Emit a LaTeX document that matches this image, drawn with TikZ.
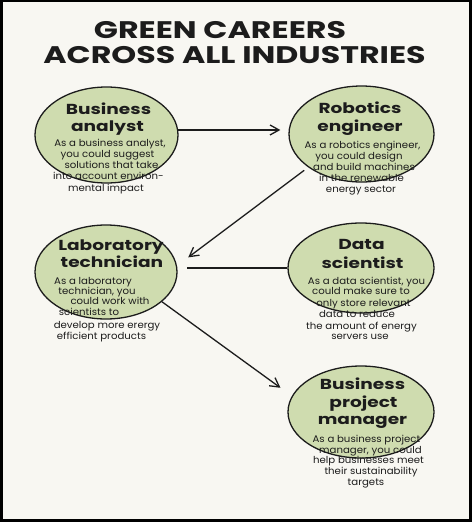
\documentclass[tikz,border=0pt]{standalone}
\usepackage{fontspec}
\setmainfont{Poppins}
\newfontfamily\widefont[FakeStretch=1.32]{Poppins}
\newfontfamily\headfont[FakeStretch=1.28]{Poppins}
\newfontfamily\bodyfont[FakeStretch=1.06]{Poppins}
\usetikzlibrary{shapes.geometric,arrows.meta}
\definecolor{bgc}{HTML}{F8F7F2}
\definecolor{sage}{HTML}{CFDCAF}
\definecolor{ink}{HTML}{1C1C1C}
\tikzset{
  bubble/.style={ellipse,draw=ink,line width=1.3pt,fill=sage,inner sep=0pt},
  titletxt/.style={anchor=base,inner sep=0pt,text=ink,font=\widefont\bfseries\fontsize{24}{28}\selectfont},
  headtxt/.style={anchor=base,inner sep=0pt,text=ink,font=\headfont\bfseries\fontsize{14.5}{17}\selectfont},
  bodytxt/.style={anchor=base,inner sep=0pt,text=ink,font=\bodyfont\fontsize{9.6}{11}\selectfont},
  conn/.style={draw=ink,line width=1.3pt},
  arr/.style={conn,-{Straight Barb[length=9pt,width=10pt,line width=1.3pt]}}
}
\begin{document}
\begin{tikzpicture}[x=1pt,y=-1pt]
\fill[black] (0,0) rectangle (472,522);
\fill[bgc] (3,2) rectangle (469,519);
\useasboundingbox (0,0) rectangle (472,522);
% title
\node[titletxt] (t1) at (220,38) {GREEN CAREERS};
\node[titletxt] (t2) at (234.5,63) {ACROSS ALL INDUSTRIES};
% bubbles
\node[bubble,minimum width=143pt,minimum height=96pt] (ba) at (106.5,135) {};
\node[bubble,minimum width=145pt,minimum height=96pt] (rob) at (361.5,134) {};
\node[bubble,minimum width=142pt,minimum height=94pt] (lab) at (106,272) {};
\node[bubble,minimum width=146pt,minimum height=90pt] (data) at (361,268) {};
\node[bubble,minimum width=146pt,minimum height=92pt] (bpm) at (361,412) {};
% headings
\foreach \x/\y/\t [count=\i] in {
  108.5/114/Business, 107.5/131/analyst,
  360/113/Robotics, 360/131/engineer,
  111/250/Laboratory, 112/267/technician,
  361.5/249/Data, 362.5/268/scientist,
  362.5/389/Business, 363.5/407/project, 362.5/424/manager}
  \node[headtxt] (h\i) at (\x,\y) {\t};
% body text
\foreach \x/\y/\t [count=\i] in {
  110/146.7/{As a business analyst,}, 107.5/157/{you could suggest},
  111.5/168/{solutions that take}, 108.5/179/{into account environ-},
  106/191/{mental impact},
  362.5/148/{As a robotics engineer,}, 359/159/{you could design},
  364/170/{and build machines}, 361.5/181.5/{in the renewable},
  361/192/{energy sector},
  93/284/{As a laboratory}, 97/294/{technician, you},
  110/304/{could work with}, 89/315/{scientists to},
  107/328/{develop more erergy}, 101.5/339/{efficient products},
  366.5/284/{As a data scientist, you}, 361/294/{could make sure to},
  363.5/306/{only store relevant}, 357/317/{data to reduce},
  361.5/329/{the amount of energy}, 360/339/{servers use},
  366.5/442/{As a business project}, 370.5/453/{manager, you could},
  368.5/463/{help businesses meet}, 371/474/{their sustainability},
  366/485/{targets}}
  \node[bodytxt] (b\i) at (\x,\y) {\t};
% connectors
\draw[arr,shorten >=8pt] (ba.4.8) -- (ba.4.8 -| rob.west);
\draw[arr,shorten <=5pt,shorten >=14pt] (rob.212) -- (lab.5.3);
\draw[conn,shorten >=9pt] (data.west) -- (data.west -| lab.east);
\draw[arr,shorten >=14pt] (lab.-28.5) -- (bpm.167.4);
\end{tikzpicture}
\end{document}
